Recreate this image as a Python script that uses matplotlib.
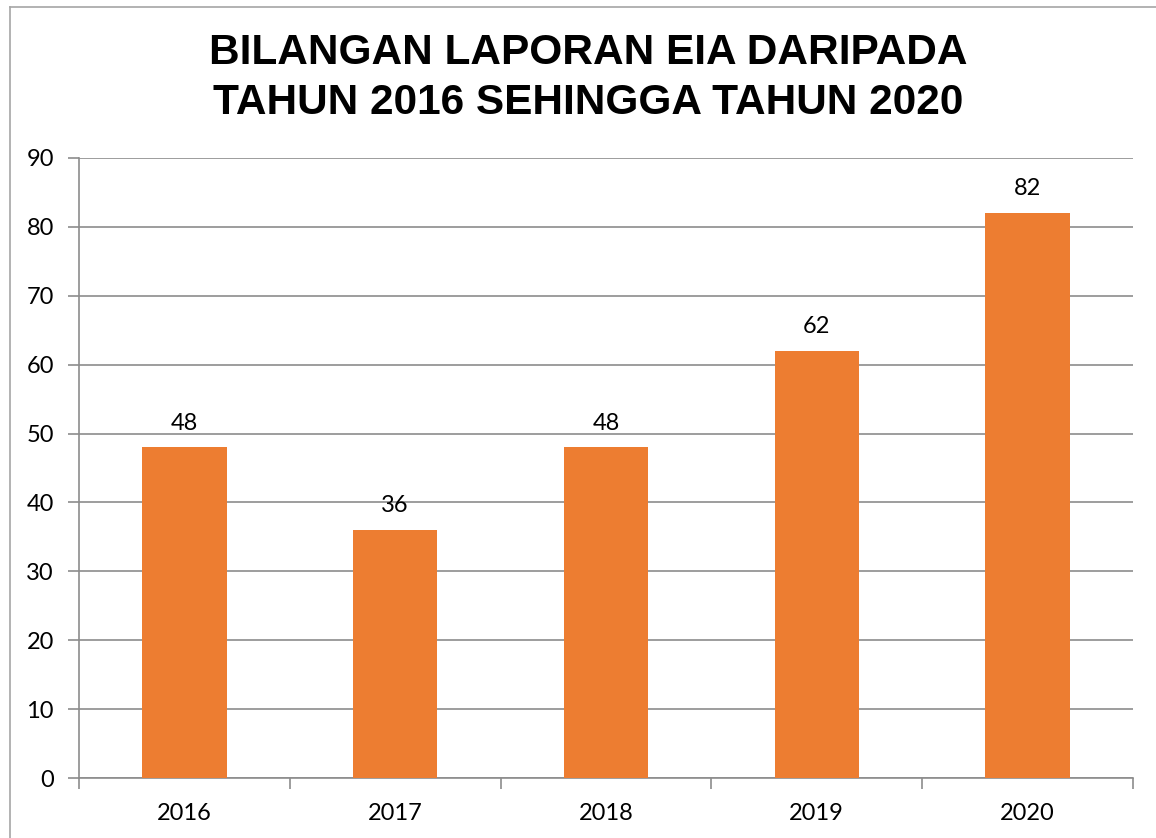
import matplotlib.pyplot as plt
from matplotlib.lines import Line2D

years = ["2016", "2017", "2018", "2019", "2020"]
reports = [48, 36, 48, 62, 82]

fig = plt.figure(figsize=(11.56, 8.38), dpi=100)
ax = fig.add_axes([79/1156, 1-778/838, (1133-79)/1156, (778-158)/838])

x = range(len(years))
bars = ax.bar(x, reports, width=0.4, color="#ED7D31", zorder=3)
for xi, v in zip(x, reports):
    ax.text(xi, v + 2.0, str(v), ha="center", va="bottom", fontsize=17, family="Lato")

ax.set_xlim(-0.5, len(years) - 0.5)
ax.set_ylim(0, 90)
ax.set_yticks(range(0, 91, 10))
ax.set_xticks(x)
ax.set_xticklabels(years)
ax.set_xticks([i - 0.5 for i in range(len(years) + 1)], minor=True)
ax.tick_params(axis="x", which="major", length=0, pad=18, labelsize=17)
ax.tick_params(axis="x", which="minor", length=8, color="#8c8c8c", width=1.2)
ax.tick_params(axis="y", length=8, color="#8c8c8c", width=1.2, pad=10, labelsize=17)
for lab in ax.get_xticklabels() + ax.get_yticklabels():
    lab.set_family("Lato")

ax.grid(axis="y", color="#8c8c8c", linewidth=1.2, zorder=0)
for s in ["top", "right"]:
    ax.spines[s].set_visible(False)
for s in ["left", "bottom"]:
    ax.spines[s].set_color("#8c8c8c")
    ax.spines[s].set_linewidth(1.2)

fig.text(588/1156, 1-78/838, "BILANGAN LAPORAN EIA DARIPADA\nTAHUN 2016 SEHINGGA TAHUN 2020",
         ha="center", va="center", fontsize=30.5, fontweight="bold",
         family="Liberation Sans", linespacing=1.32)

# chart frame (left and top edges visible)
fig.add_artist(Line2D([10/1156, 10/1156], [0, 1-7/838], color="#a6a6a6", lw=1.2))
fig.add_artist(Line2D([10/1156, 1], [1-7/838, 1-7/838], color="#a6a6a6", lw=1.2))

plt.savefig("out.png", dpi=100)
